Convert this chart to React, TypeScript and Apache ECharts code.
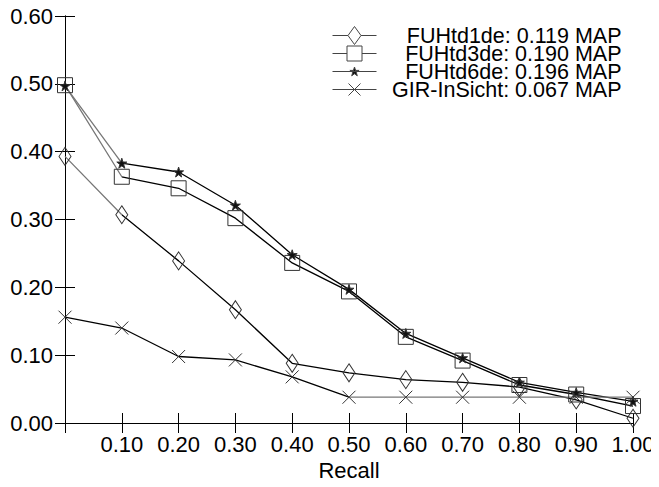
import React, { useEffect, useRef } from "react";
import * as echarts from "echarts";

const recall = [0, 0.1, 0.2, 0.3, 0.4, 0.5, 0.6, 0.7, 0.8, 0.9, 1.0];
const fuhtd1de = [0.393, 0.307, 0.239, 0.167, 0.088, 0.074, 0.064, 0.06, 0.053, 0.034, 0.007];
const fuhtd3de = [0.498, 0.363, 0.346, 0.302, 0.236, 0.194, 0.127, 0.092, 0.056, 0.042, 0.025];
const fuhtd6de = [0.497, 0.383, 0.37, 0.321, 0.248, 0.197, 0.132, 0.096, 0.06, 0.045, 0.032];
const girInSicht = [0.156, 0.14, 0.098, 0.093, 0.068, 0.038, 0.038, 0.038, 0.038, 0.038, 0.038];
const seriesNames = [
  "FUHtd1de: 0.119 MAP",
  "FUHtd3de: 0.190 MAP",
  "FUHtd6de: 0.196 MAP",
  "GIR-InSicht: 0.067 MAP",
];
// recall value where line colour switches (gray before / black after, or reverse)
const switchAt = [0.1, 0.1, 0.1, 0.5];
const grayFirst = [true, true, true, false];

const FONT = "'Liberation Sans', Arial, Helvetica, sans-serif";
const STAR =
  "path://M50,0 L61,35 L98,35 L68,57 L79,91 L50,70 L21,91 L32,57 L2,35 L39,35 Z";
const CROSS = "path://M0,0 L10,10 M10,0 L0,10";

// legend icons: 44 x 18 boxes (line + marker), extents forced by moveTo points
const LEG_DIAMOND =
  "path://M0,0 M44,18 M0,9 L15.5,9 M28.5,9 L44,9 M22,0 L28.5,9 L22,18 L15.5,9 Z";
const LEG_SQUARE =
  "path://M0,0 M44,18 M0,9 L14.5,9 M29.5,9 L44,9 M14.5,1.5 L29.5,1.5 L29.5,16.5 L14.5,16.5 Z";
const LEG_STAR =
  "path://M0,0 M44,18 M0,9 L44,9 M22,4.5 L23.1,7.9 L26.6,7.9 L23.8,10 L24.8,13.3 L22,11.3 L19.2,13.3 L20.2,10 L17.4,7.9 L20.9,7.9 Z";
const LEG_CROSS =
  "path://M0,0 M44,18 M0,9 L44,9 M16,3 L28,15 M28,3 L16,15";

export default function App() {
  const ref = useRef<HTMLDivElement>(null);
  useEffect(() => {
    if (!ref.current) return;
    const chart = echarts.init(ref.current, undefined, { renderer: "svg" });
    const values = [fuhtd1de, fuhtd3de, fuhtd6de, girInSicht];
    const symbols = ["diamond", "rect", STAR, CROSS];
    const legendIcons = [LEG_DIAMOND, LEG_SQUARE, LEG_STAR, LEG_CROSS];
    const sizes: any[] = [[12, 18], 15, 10, 13];
    const fills = ["rgba(0,0,0,0)", "rgba(0,0,0,0)", "#111", "rgba(0,0,0,0)"];
    const pairs = values.map((v) => recall.map((x, i) => [x, v[i]]));
    const xMin = recall[0];
    const xMax = recall[recall.length - 1];

    const lineSeries = pairs.map((d, i) => {
      const f = (switchAt[i] - xMin) / (xMax - xMin);
      const a = grayFirst[i] ? "#777" : "#000";
      const b = grayFirst[i] ? "#000" : "#777";
      return {
        type: "line",
        name: "line" + i,
        data: d,
        symbol: "none",
        lineStyle: {
          width: 1.3,
          color: new echarts.graphic.LinearGradient(0, 0, 1, 0, [
            { offset: 0, color: a },
            { offset: f, color: a },
            { offset: f, color: b },
            { offset: 1, color: b },
          ]),
        },
        z: 2,
      };
    });
    const markSeries = pairs.map((d, i) => ({
      type: "line",
      name: seriesNames[i],
      data: d,
      symbol: symbols[i],
      symbolSize: sizes[i],
      showAllSymbol: true,
      itemStyle: { color: fills[i], borderColor: "#333", borderWidth: 1 },
      lineStyle: { opacity: 0, width: 0 },
      z: 3,
    }));

    const axisCommon = {
      min: 0,
      interval: 0.1,
      axisLine: { show: true, lineStyle: { color: "#000", width: 1 } },
      axisTick: { show: true, inside: true, length: 10, lineStyle: { color: "#000" } },
      splitLine: { show: false },
    };

    chart.setOption({
      animation: false,
      grid: { left: 65, right: 26, top: 16, bottom: 64, containLabel: false },
      xAxis: [
        {
          type: "value",
          ...axisCommon,
          max: 1,
          position: "bottom",
          name: "Recall",
          nameLocation: "middle",
          nameGap: 34,
          nameTextStyle: { color: "#000", fontSize: 22, fontFamily: FONT },
          axisLabel: {
            color: "#000",
            fontSize: 22,
            fontFamily: FONT,
            margin: 10,
            formatter: (v: number) => (v === 0 ? "" : v.toFixed(2)),
          },
        },
        {
          type: "value",
          ...axisCommon,
          max: 1,
          position: "top",
          axisLabel: { show: false },
        },
      ],
      yAxis: [
        {
          type: "value",
          ...axisCommon,
          max: 0.6,
          position: "left",
          axisLabel: {
            color: "#000",
            fontSize: 22,
            fontFamily: FONT,
            margin: 12,
            formatter: (v: number) => v.toFixed(2),
          },
        },
        {
          type: "value",
          ...axisCommon,
          max: 0.6,
          position: "right",
          axisLabel: { show: false },
        },
      ],
      legend: {
        data: seriesNames.map((n, i) => ({
          name: n,
          icon: legendIcons[i],
          itemStyle: {
            color: fills[i],
            borderColor: "#444",
            borderWidth: 1,
          },
        })),
        orient: "vertical",
        left: 332,
        top: 24.5,
        padding: 0,
        itemWidth: 44,
        itemHeight: 18,
        itemGap: -4,
        selectedMode: false,
        symbolKeepAspect: false,
        itemStyle: { borderWidth: 1, borderColor: "#444" },
        formatter: (name: string) => "{n|" + name + "}",
        textStyle: {
          color: "#000",
          fontFamily: FONT,
          fontSize: 21.5,
          rich: {
            n: {
              width: 240,
              align: "right",
              fontSize: 21.5,
              fontFamily: FONT,
              color: "#000",
            },
          },
        },
      },
      series: [...lineSeries, ...markSeries],
    });
    return () => chart.dispose();
  }, []);
  return <div ref={ref} style={{ width: 659, height: 487, marginLeft: -8, marginTop: -8 }} />;
}
